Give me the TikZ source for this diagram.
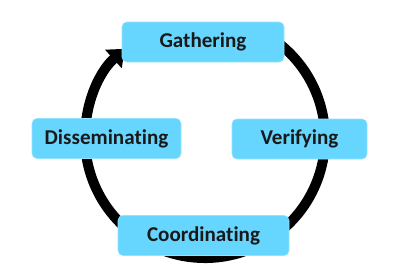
\documentclass[tikz,border=0pt]{standalone}
\usepackage{fontspec}
\setmainfont{Carlito}[Ligatures={NoCommon,NoContextual}]
\usetikzlibrary{arrows.meta,calc}
\definecolor{phasecyan}{RGB}{102,214,255}
\tikzset{
  phase/.style={fill=phasecyan, draw=phasecyan!70!white, line width=0.4pt, rounded corners=3.5pt,
    minimum height=1cm, font=\bfseries\fontsize{15}{17}\selectfont, text=black!90, inner sep=2pt},
  cycle/.style={line width=0.25cm, black}
}

\begin{document}
\begin{tikzpicture}
            \useasboundingbox (0,0) rectangle (10,6.95);
            \coordinate (hub) at (5.125,3.5);
            \coordinate (cstart) at ($(hub)+(65:3)$);
            \draw[cycle, -{Triangle[length=0.38cm, width=0.6cm]}] (cstart) arc[start angle=65, end angle=-228, radius=3cm];
            \node[phase, minimum width=4.05cm] (gath) at (5.075,5.9) {Gathering};
            \node[phase, minimum width=3.375cm] (veri) at (7.4875,3.475) {Verifying};
            \node[phase, minimum width=4.275cm] (coord) at (5.0875,1.0625) {Coordinating};
            \node[phase, minimum width=3.725cm] (diss) at (2.6625,3.4875) {Disseminating};
        \end{tikzpicture}
\end{document}
